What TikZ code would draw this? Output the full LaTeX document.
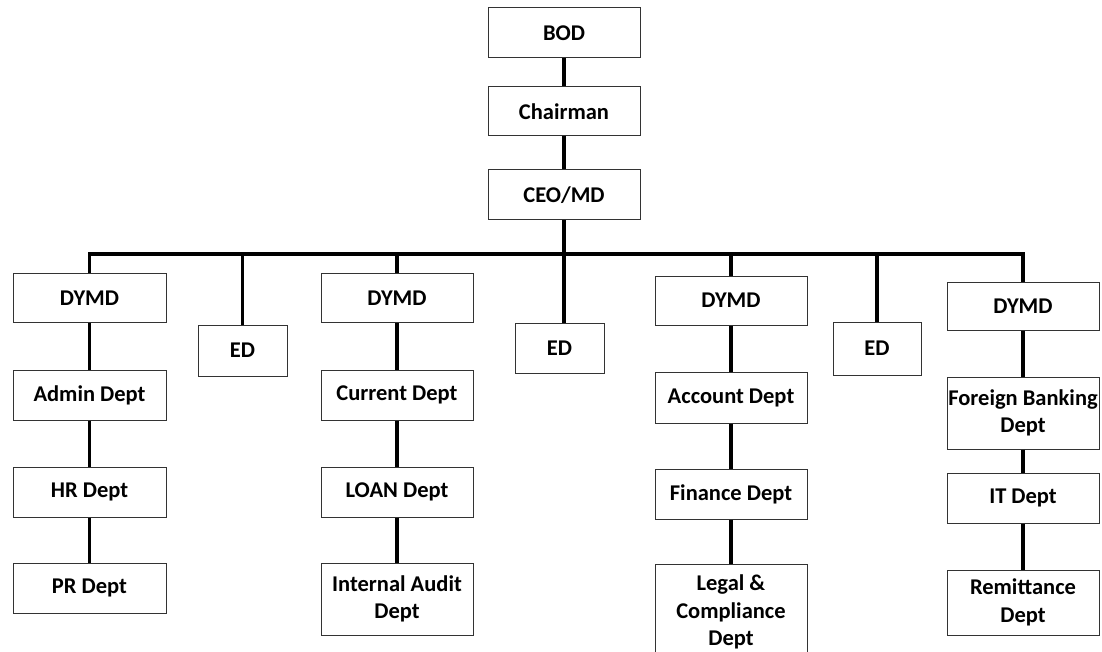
\documentclass[tikz,border=0pt]{standalone}
\usepackage{fontspec}
\setmainfont{Carlito}

\tikzset{
  box/.style={draw=black!80, line width=1pt, minimum width=152pt, minimum height=50pt,
    inner sep=0pt, align=center, font=\bfseries\fontsize{22.5}{27.5}\selectfont},
  edbox/.style={box, minimum width=89pt},
  link/.style={line width=3.5pt}
}

\begin{document}
\begin{tikzpicture}[x=1pt,y=-1pt]
      \useasboundingbox (0,0) rectangle (1102,652);
      % top
      \node[box] (bod) at (564,33) {BOD};
      \node[box,minimum height=49pt] (chair) at (564,111.5) {Chairman};
      \node[box] (ceo) at (564,195) {CEO/MD};
      % first DYMD
      \node[box,minimum width=153pt,minimum height=49pt] (d1) at (89.5,298) {DYMD};
      \node[box,minimum width=153pt] (admin) at (89.5,395) {Admin Dept};
      \node[box,minimum width=153pt] (hr) at (89.5,492) {HR Dept};
      \node[box,minimum width=153pt] (pr) at (89.5,588) {PR Dept};
      \node[edbox,minimum height=51pt] (ed1) at (242.5,350.5) {ED};
      % second DYMD
      \node[box,minimum height=49pt] (d2) at (397,298) {DYMD};
      \node[box] (cur) at (397,395) {Current Dept};
      \node[box] (loan) at (397,492) {LOAN Dept};
      \node[box,minimum height=72pt] (audit) at (397,599) {Internal Audit\\Dept};
      \node[edbox] (ed2) at (559.5,348) {ED};
      % third DYMD
      \node[box,minimum height=49pt] (d3) at (731,300.5) {DYMD};
      \node[box,minimum height=51pt] (acc) at (731,397.5) {Account Dept};
      \node[box] (fin) at (731,494) {Finance Dept};
      \node[box,minimum height=96pt] (legal) at (731,612) {Legal \&\\Compliance\\Dept};
      \node[edbox,minimum width=88pt,minimum height=53pt] (ed3) at (877,348.5) {ED};
      % fourth DYMD
      \node[box,minimum height=48pt] (d4) at (1023,306) {DYMD};
      \node[box,minimum height=72pt] (forb) at (1023,413) {Foreign Banking\\Dept};
      \node[box] (it) at (1023,498) {IT Dept};
      \node[box,minimum height=65pt] (remit) at (1023,602.5) {Remittance\\Dept};
      % connectors
      \coordinate (bus) at (564,254);
      \draw[link] (bod) -- (chair) -- (ceo);
      \draw[link] (ceo.south) -- (ceo.south |- ed2.north);
      \draw[link] (d1.north) |- (bus) -| (d4.north);
      \foreach \n in {ed1,d2,d3,ed3} {
        \draw[link] (\n.north) -- (\n.north |- bus);
      }
      \draw[link] (d1) -- (admin) -- (hr) -- (pr);
      \draw[link] (d2) -- (cur) -- (loan) -- (audit);
      \draw[link] (d3) -- (acc) -- (fin) -- (legal);
      \draw[link] (d4) -- (forb) -- (it) -- (remit);
\end{tikzpicture}
\end{document}
